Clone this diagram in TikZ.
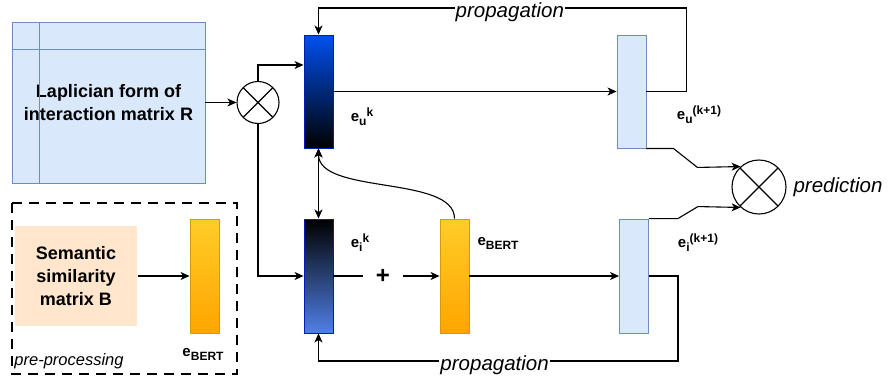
\documentclass[tikz,border=0pt]{standalone}
\usepackage{fontspec}
\setmainfont{Liberation Sans}
\usetikzlibrary{arrows.meta,calc,positioning,backgrounds}
\definecolor{lapfill}{HTML}{DAE8FC}
\definecolor{lapdraw}{HTML}{6C8EBF}
\definecolor{semfill}{HTML}{FFE6CC}
\definecolor{orgtop}{HTML}{FFCD28}
\definecolor{orgbot}{HTML}{FFA500}
\definecolor{orgdraw}{HTML}{D79B00}
\definecolor{bluetop}{HTML}{0050EF}
\definecolor{bluebot}{HTML}{5080E6}
\definecolor{bluedraw}{HTML}{001DBC}
\newcommand{\lsub}[1]{\raisebox{-4pt}{\fontsize{12}{12}\selectfont #1}}
\newcommand{\lsup}[1]{\raisebox{5pt}{\fontsize{12}{12}\selectfont #1}}
\tikzstyle{arr}=[-{Stealth[length=9pt,width=8pt,inset=2.5pt]}]
\tikzstyle{dblarr}=[{Stealth[length=9pt,width=8pt,inset=2.5pt]}-{Stealth[length=9pt,width=8pt,inset=2.5pt]}]
\tikzstyle{vec}=[rectangle, draw, line width=0.9pt, minimum width=29pt, minimum height=114pt, inner sep=0pt]
\tikzstyle{light}=[vec, fill=lapfill, draw=lapdraw]
\tikzstyle{bert}=[vec, top color=orgtop, bottom color=orgbot, draw=orgdraw]
\tikzstyle{mult}=[circle, draw, inner sep=0pt, path picture={\draw (path picture bounding box.north west) -- (path picture bounding box.south east) (path picture bounding box.south west) -- (path picture bounding box.north east);}]
\tikzstyle{lbl}=[font=\bfseries\fontsize{15}{17}\selectfont, inner sep=1pt]
\tikzstyle{big}=[font=\bfseries\fontsize{18}{23}\selectfont, align=center]
\tikzstyle{itl}=[font=\itshape\fontsize{20.5}{24}\selectfont, inner sep=1pt]
\begin{document}
\begin{tikzpicture}[x=1pt, y=-1pt, line width=1.1pt]
\useasboundingbox (0,0) rectangle (891,381);

\node[rectangle, draw=lapdraw, fill=lapfill, line width=0.9pt, minimum width=193pt, minimum height=161pt, big] (lap) at (108.5,102.5) {Laplician form of\\interaction matrix R};
\draw[lapdraw, line width=0.9pt] ([xshift=28pt]lap.north west) -- ([xshift=28pt]lap.south west);
\draw[lapdraw, line width=0.9pt] ([yshift=-28pt]lap.north west) -- ([yshift=-28pt]lap.north east);

\draw[dash pattern=on 10pt off 7pt] (12,203) rectangle (237,374);
\node[itl, font=\itshape\fontsize{16.5}{20}\selectfont] (pre) at (69,361) {pre-processing};
\node[rectangle, fill=semfill, minimum width=122pt, minimum height=100pt, big] (sem) at (76,276) {Semantic\\similarity\\matrix B};
\node[bert] (bertp) at (204.5,276) {};
\node[lbl] (bertpl) at (203,354) {e\lsub{BERT}};

\node[mult, minimum size=42pt] (mul) at (258,102.5) {};
\node[vec, top color=bluetop, bottom color=black, draw=bluedraw, minimum height=113pt] (eu) at (318.5,91.5) {};
\node[vec, top color=black, bottom color=bluebot, draw=bluedraw] (ei) at (318.5,276) {};
\node[bert] (bertm) at (454.5,276) {};
\node[light, minimum height=113pt] (eu1) at (631.5,91.5) {};
\node[light] (ei1) at (634,276) {};
\node[mult, minimum size=54pt] (pred) at (759,187) {};
\node[itl] (predl) at (838,187) {prediction};
\node[font=\bfseries\fontsize{24}{24}\selectfont, minimum width=39pt, inner sep=0pt] (plus) at (383,276) {+};

\node[lbl] (eul) at (362,117) {e\lsub{u}\lsup{k}};
\node[lbl] (eil) at (360,243) {e\lsub{i}\lsup{k}};
\node[lbl] (bertml) at (498,243) {e\lsub{BERT}};
\node[lbl] (eu1l) at (699,115) {e\lsub{u}\lsup{(k+1)}};
\node[lbl] (ei1l) at (698,243) {e\lsub{i}\lsup{(k+1)}};

\draw[arr] (lap.east) -- (mul.west);
\draw[arr] (mul.north) |- ([yshift=26.5pt]eu.west);
\draw[arr] (mul.south) |- (ei.west);
\draw[arr] (sem.east) -- (bertp.west);
\draw[arr] (eu.east) -- (eu1.west);
\draw[dblarr] (eu.south) -- (ei.north);
\draw[arr] (bertm.north) .. controls (454.5,175) and (318.5,195) .. (eu.south);
\draw (ei.east) -- (plus.west);
\draw[arr] (plus.east) -- (bertm.west);
\draw[arr] (bertm.east) -- (ei1.west);
\draw[arr] (eu1.east) -- ++(40,0) -- ++(0,-83.5) -| (eu.north) node[itl, pos=0.24, fill=white, yshift=-4pt] {propagation};
\draw[arr] (ei1.east) -- ++(29,0) -- ++(0,85) -| (ei.south) node[itl, pos=0.255, fill=white, yshift=-4pt] {propagation};
\draw[arr] (eu1.south east) -- ++(27,0) -- ++(24,19) -- (pred.132);
\draw[arr] (ei1.north east) -- ++(29,0) -- ++(20,-12) -- (pred.228);
\end{tikzpicture}
\end{document}
